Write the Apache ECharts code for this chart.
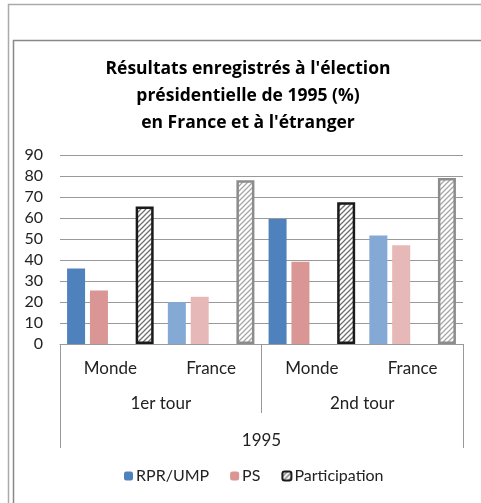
<!DOCTYPE html>
<html>
<head>
<meta charset="utf-8">
<script src="https://cdn.jsdelivr.net/npm/echarts@6/dist/echarts.min.js"></script>
<style>
  html, body { margin: 0; padding: 0; background: #fff; }
  #chart { width: 481px; height: 503px; }
</style>
</head>
<body>
<div id="chart"></div>
<script>
// données
const zones = ['Monde', 'France', 'Monde', 'France'];
const tours = ['1er tour', '2nd tour'];
const annees = ['1995'];
const rpr = [36, 20, 59.5, 51.7];
const ps = [25.5, 22.5, 39.2, 47];
const participation = [65.5, 78, 67.5, 79];
const vide = [null, null, null, null]; // emplacement vide comme dans Excel
const yTicks = [0, 10, 20, 30, 40, 50, 60, 70, 80, 90];

const FONT = 'Lato';

// hachures pour la participation
function hatch(stroke) {
  const c = document.createElement('canvas');
  c.width = 5; c.height = 5;
  const ctx = c.getContext('2d');
  ctx.fillStyle = '#fff';
  ctx.fillRect(0, 0, 5, 5);
  ctx.strokeStyle = stroke;
  ctx.lineWidth = 1.3;
  ctx.beginPath();
  ctx.moveTo(-1, 6); ctx.lineTo(6, -1);
  ctx.moveTo(-1, 1); ctx.lineTo(1, -1);
  ctx.moveTo(4, 6); ctx.lineTo(6, 4);
  ctx.stroke();
  return {image: c, repeat: 'repeat'};
}

// Monde = couleurs pleines, France = couleurs claires
const rprColors = ['#4f81bd', '#85a9d5', '#4f81bd', '#85a9d5'];
const psColors = ['#d99694', '#e6b8b7', '#d99694', '#e6b8b7'];
const partBorder = ['#1a1a1a', '#8c8c8c', '#1a1a1a', '#8c8c8c'];
const partHatch = [hatch('#6f6f6f'), hatch('#a6a6a6'), hatch('#6f6f6f'), hatch('#a6a6a6')];

const chart = echarts.init(document.getElementById('chart'));

const option = {
  animation: false,
  textStyle: {fontFamily: FONT},
  title: {
    text: "Résultats enregistrés à l'élection\nprésidentielle de 1995 (%)\nen France et à l'étranger",
    left: 248,
    textAlign: 'center',
    top: 56,
    padding: 0,
    textStyle: {fontFamily: 'Open Sans', fontSize: 17.5, fontWeight: 'bold', color: '#000', lineHeight: 27}
  },
  legend: {
    data: ['RPR/UMP', 'PS', 'Participation'],
    bottom: 14,
    left: 119,
    itemWidth: 9,
    itemHeight: 9,
    itemGap: 21,
    textStyle: {fontFamily: FONT, fontSize: 16, color: '#222', padding: [0, 0, 0, -2]}
  },
  grid: {left: 60, right: 18, top: 155, bottom: 159},
  xAxis: [
    {
      type: 'category',
      data: zones,
      position: 'bottom',
      axisLine: {lineStyle: {color: '#999', width: 1}},
      axisTick: {show: false},
      axisLabel: {fontFamily: FONT, fontSize: 17, color: '#222', margin: 25, verticalAlign: 'middle'}
    },
    {
      type: 'category',
      data: tours,
      position: 'bottom',
      axisLine: {show: false},
      axisTick: {show: true, length: 69, lineStyle: {color: '#999'}},
      axisLabel: {fontFamily: FONT, fontSize: 17, color: '#222', margin: 60, verticalAlign: 'middle'}
    },
    {
      type: 'category',
      data: annees,
      position: 'bottom',
      axisLine: {show: false},
      axisTick: {show: true, length: 104, lineStyle: {color: '#999'}},
      axisLabel: {fontFamily: FONT, fontSize: 17, color: '#222', margin: 97, verticalAlign: 'middle'}
    }
  ],
  yAxis: {
    type: 'value',
    min: yTicks[0],
    max: yTicks[yTicks.length - 1],
    interval: 10,
    axisLine: {show: false},
    axisTick: {show: false},
    axisLabel: {fontFamily: FONT, fontSize: 16, color: '#222', margin: 17},
    splitLine: {lineStyle: {color: '#999', width: 1}}
  },
  series: [
    {
      name: 'RPR/UMP',
      type: 'bar',
      barWidth: 18,
      barGap: '27%',
      itemStyle: {color: '#4f81bd'},
      data: rpr.map((v, i) => ({value: v, itemStyle: {color: rprColors[i]}}))
    },
    {
      name: 'PS',
      type: 'bar',
      barWidth: 18,
      barGap: '27%',
      itemStyle: {color: '#d99694'},
      data: ps.map((v, i) => ({value: v, itemStyle: {color: psColors[i]}}))
    },
    {
      name: 'vide',
      type: 'bar',
      barWidth: 18,
      barGap: '27%',
      data: vide
    },
    {
      name: 'Participation',
      type: 'bar',
      barWidth: 18,
      barGap: '27%',
      itemStyle: {color: hatch('#6f6f6f'), borderColor: '#1a1a1a', borderWidth: 2},
      data: participation.map((v, i) => ({
        value: v,
        itemStyle: {color: partHatch[i], borderColor: partBorder[i], borderWidth: 2.5}
      }))
    }
  ],
  graphic: [
    {
      type: 'polyline',
      silent: true,
      z: -10,
      shape: {points: [[8.5, 503], [8.5, 4.5], [481, 4.5]]},
      style: {stroke: '#aaa', lineWidth: 1.5, fill: null}
    },
    {
      type: 'polyline',
      silent: true,
      z: -10,
      shape: {points: [[13.5, 503], [13.5, 40.5], [481, 40.5]]},
      style: {stroke: '#888', lineWidth: 1.5, fill: null}
    }
  ]
};

chart.setOption(option);
</script>
</body>
</html>
